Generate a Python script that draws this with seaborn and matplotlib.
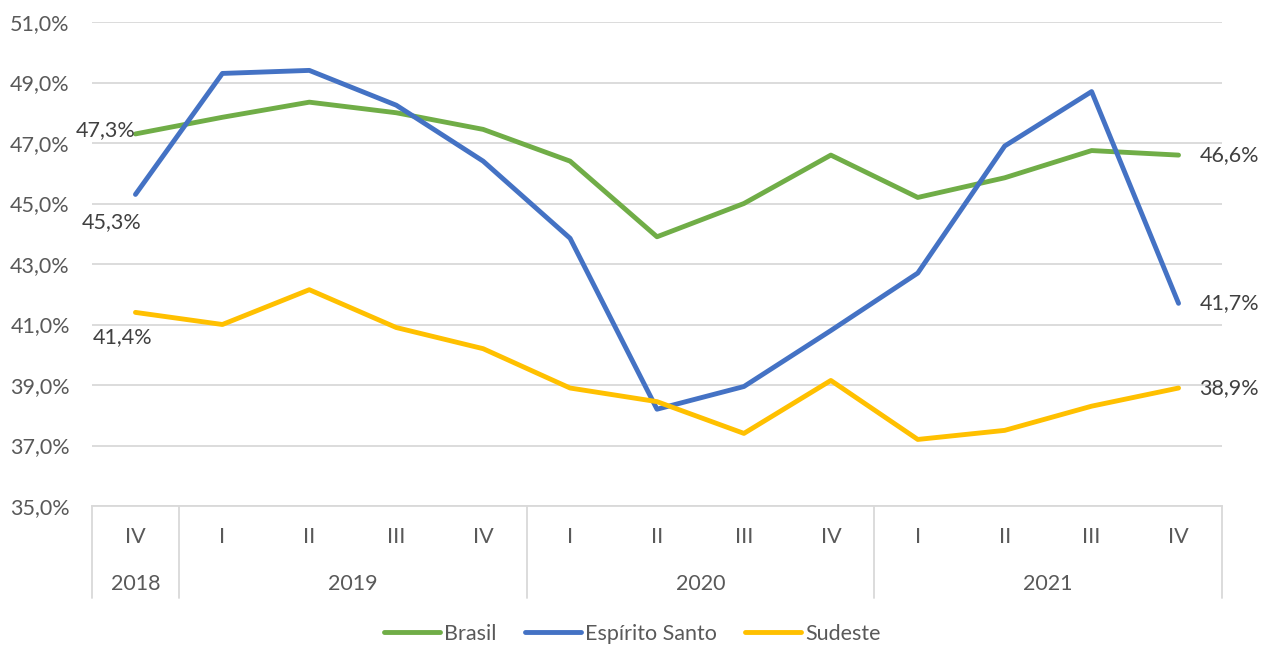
import pandas as pd
import matplotlib.pyplot as plt
import numpy as np
import seaborn as sb

quarters = ['IV', 'I', 'II', 'III', 'IV', 'I', 'II', 'III', 'IV', 'I', 'II', 'III', 'IV']
years = ['2018', '2019', '2020', '2021']
year_sizes = [1, 4, 4, 4]

brasil = [47.3, 47.85, 48.35, 48.0, 47.45, 46.4, 43.9, 45.0, 46.6, 45.2, 45.85, 46.75, 46.6]
espirito_santo = [45.3, 49.3, 49.4, 48.25, 46.4, 43.85, 38.2, 38.95, 40.8, 42.7, 46.9, 48.7, 41.7]
sudeste = [41.4, 41.0, 42.15, 40.9, 40.2, 38.9, 38.45, 37.4, 39.15, 37.2, 37.5, 38.3, 38.9]

series = {'Brasil': brasil, 'Espírito Santo': espirito_santo, 'Sudeste': sudeste}
colors = {'Brasil': '#70AD47', 'Espírito Santo': '#4472C4', 'Sudeste': '#FFC000'}

rows = []
for name, vals in series.items():
    for i, v in enumerate(vals):
        rows.append({'pos': i, 'valor': v, 'serie': name})
df = pd.DataFrame(rows)

sb.set_style('white')
plt.rcParams['font.family'] = ['Lato', 'DejaVu Sans']
txt = '#595959'
grid = '#D9D9D9'
fs = 15.5

fig = plt.figure(figsize=(12.65, 6.45), dpi=100)
ax = fig.add_axes([92 / 1265, 1 - 506 / 645, 1130 / 1265, 484 / 645])

sb.lineplot(data=df, x='pos', y='valor', hue='serie', palette=colors, linewidth=3.5,
            ax=ax, legend=False, solid_capstyle='round', solid_joinstyle='round')

n = len(quarters)
ax.set_xlim(-0.5, n - 0.5)
ax.set_ylim(35, 51)
ax.set_yticks(np.arange(35, 52, 2))
ax.set_yticklabels([f'{v:.1f}%'.replace('.', ',') for v in np.arange(35, 52, 2)],
                   fontsize=fs, color=txt)
ax.yaxis.grid(True, color=grid, linewidth=1.3)
ax.set_axisbelow(True)
ax.set_xticks([])
ax.set_xlabel('')
ax.set_ylabel('')
for s in ['top', 'right', 'left']:
    ax.spines[s].set_visible(False)
ax.spines['bottom'].set_color(grid)
ax.spines['bottom'].set_linewidth(1.3)
ax.tick_params(axis='y', length=0, pad=16)

# category axis (quarters + years)
trans = ax.get_xaxis_transform()
for i, q in enumerate(quarters):
    ax.text(i, -0.065, q, transform=trans, ha='center', va='center', fontsize=fs, color=txt)
start = 0
bounds = [-0.5]
for y, sz in zip(years, year_sizes):
    ax.text(start + (sz - 1) / 2, -0.162, y, transform=trans, ha='center', va='center',
            fontsize=fs, color=txt)
    start += sz
    bounds.append(start - 0.5)
for b in bounds:
    ax.plot([b, b], [0, -0.19], transform=trans, color=grid, linewidth=1.3, clip_on=False)

# data labels
lab = lambda v: f'{v:.1f}%'.replace('.', ',')
ax.annotate(lab(brasil[0]), (0, brasil[0]), xytext=(0, 3), textcoords='offset points',
            ha='right', va='center', fontsize=fs, color='#404040')
ax.annotate(lab(espirito_santo[0]), (0, espirito_santo[0]), xytext=(-17, -20),
            textcoords='offset points', ha='center', va='center', fontsize=fs, color='#404040')
ax.annotate(lab(sudeste[0]), (0, sudeste[0]), xytext=(-9, -18), textcoords='offset points',
            ha='center', va='center', fontsize=fs, color='#404040')
for vals in [brasil, espirito_santo, sudeste]:
    ax.annotate(lab(vals[-1]), (n - 1, vals[-1]), xytext=(15, 0), textcoords='offset points',
                ha='left', va='center', fontsize=fs, color='#404040')

handles = [plt.Line2D([], [], color=colors[k], linewidth=3.5, solid_capstyle='round') for k in series]
fig.legend(handles, list(series), loc='center', bbox_to_anchor=(0.5, 1 - 634 / 645), ncol=3,
           frameon=False, fontsize=fs, labelcolor=txt, handlelength=2.6, handletextpad=0.2,
           columnspacing=1.3)

fig.savefig('out.png', dpi=100)
